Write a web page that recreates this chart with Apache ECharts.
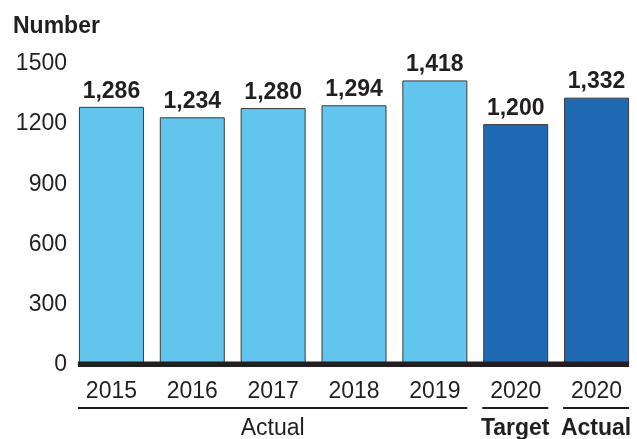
<!DOCTYPE html>
<html>
<head>
<meta charset="utf-8">
<script src="https://cdn.jsdelivr.net/npm/echarts@6/dist/echarts.min.js"></script>
<style>
html,body{margin:0;padding:0;background:#fff;}
#chart{width:637px;height:439px;}
</style>
</head>
<body>
<div id="chart"></div>
<script>
// Data
var categories = ['2015', '2016', '2017', '2018', '2019', '2020 Target', '2020 Actual'];
var yearLabels = ['2015', '2016', '2017', '2018', '2019', '2020', '2020'];
var values = [1286, 1234, 1280, 1294, 1418, 1200, 1332];
var barKinds = ['actual', 'actual', 'actual', 'actual', 'actual', 'target', 'actual2020'];
var groups = [
  { label: 'Actual', from: 0, to: 4, bold: false },
  { label: 'Target', from: 5, to: 5, bold: true },
  { label: 'Actual', from: 6, to: 6, bold: true }
];
var yTicks = [0, 300, 600, 900, 1200, 1500];

var FONT = '"Liberation Sans", Arial, Helvetica, sans-serif';
var INK = '#231F20';
var LIGHT = '#62C5EE';
var DARK = '#1F6AB3';
var BAR_W = 65;

var chart = echarts.init(document.getElementById('chart'), null, { renderer: 'canvas' });

var option = {
  animation: false,
  backgroundColor: '#ffffff',
  title: {
    text: 'Number',
    left: 8,
    top: 10,
    textStyle: { fontFamily: FONT, fontSize: 23, fontWeight: 'bold', color: INK }
  },
  grid: { left: 71, right: -2, top: 64, bottom: 74.5, containLabel: false },
  xAxis: {
    type: 'category',
    data: categories,
    axisLine: { show: false },
    axisTick: { show: false },
    axisLabel: {
      margin: 16,
      fontFamily: FONT,
      fontSize: 23,
      color: INK,
      formatter: function (v, i) { return yearLabels[i]; }
    }
  },
  yAxis: {
    type: 'value',
    min: yTicks[0],
    max: yTicks[yTicks.length - 1],
    interval: yTicks[1] - yTicks[0],
    splitLine: { show: false },
    axisLine: { show: false },
    axisTick: { show: false },
    axisLabel: {
      margin: 4, fontFamily: FONT, fontSize: 23, color: INK,
      formatter: function (v) { return String(v); }
    }
  },
  series: [{
    type: 'bar',
    barWidth: BAR_W,
    data: values.map(function (v, i) {
      return {
        value: v,
        itemStyle: { color: barKinds[i] === 'actual' ? LIGHT : DARK }
      };
    }),
    itemStyle: { borderColor: '#3a3a3a', borderWidth: 1 },
    label: {
      show: true,
      position: 'top',
      distance: 4,
      fontFamily: FONT,
      fontSize: 23,
      fontWeight: 'bold',
      color: INK,
      formatter: function (p) { return p.value.toLocaleString('en-US'); }
    }
  }]
};

chart.setOption(option);

// Baseline and group brackets, positioned through the chart's own scales
function px(i, v) { return chart.convertToPixel({ gridIndex: 0 }, [i, v]); }
var half = BAR_W / 2;
var base = px(0, 0);
var last = px(categories.length - 1, 0);
var graphics = [{
  type: 'rect',
  shape: { x: base[0] - half - 1, y: base[1] - 3, width: (last[0] + half) - (base[0] - half) + 1, height: 5.5 },
  style: { fill: INK },
  z: 10
}];
groups.forEach(function (g) {
  var a = px(g.from, 0), b = px(g.to, 0);
  var x1 = a[0] - half - 1, x2 = b[0] + half;
  graphics.push({
    type: 'rect',
    shape: { x: x1, y: base[1] + 42.5, width: x2 - x1, height: 2 },
    style: { fill: INK }
  });
  graphics.push({
    type: 'text',
    x: (x1 + x2) / 2,
    y: base[1] + 64.5,
    style: {
      text: g.label,
      align: 'center',
      verticalAlign: 'middle',
      font: (g.bold ? 'bold ' : '') + '23px ' + FONT,
      fill: INK
    }
  });
});
chart.setOption({ graphic: graphics });
</script>
</body>
</html>
